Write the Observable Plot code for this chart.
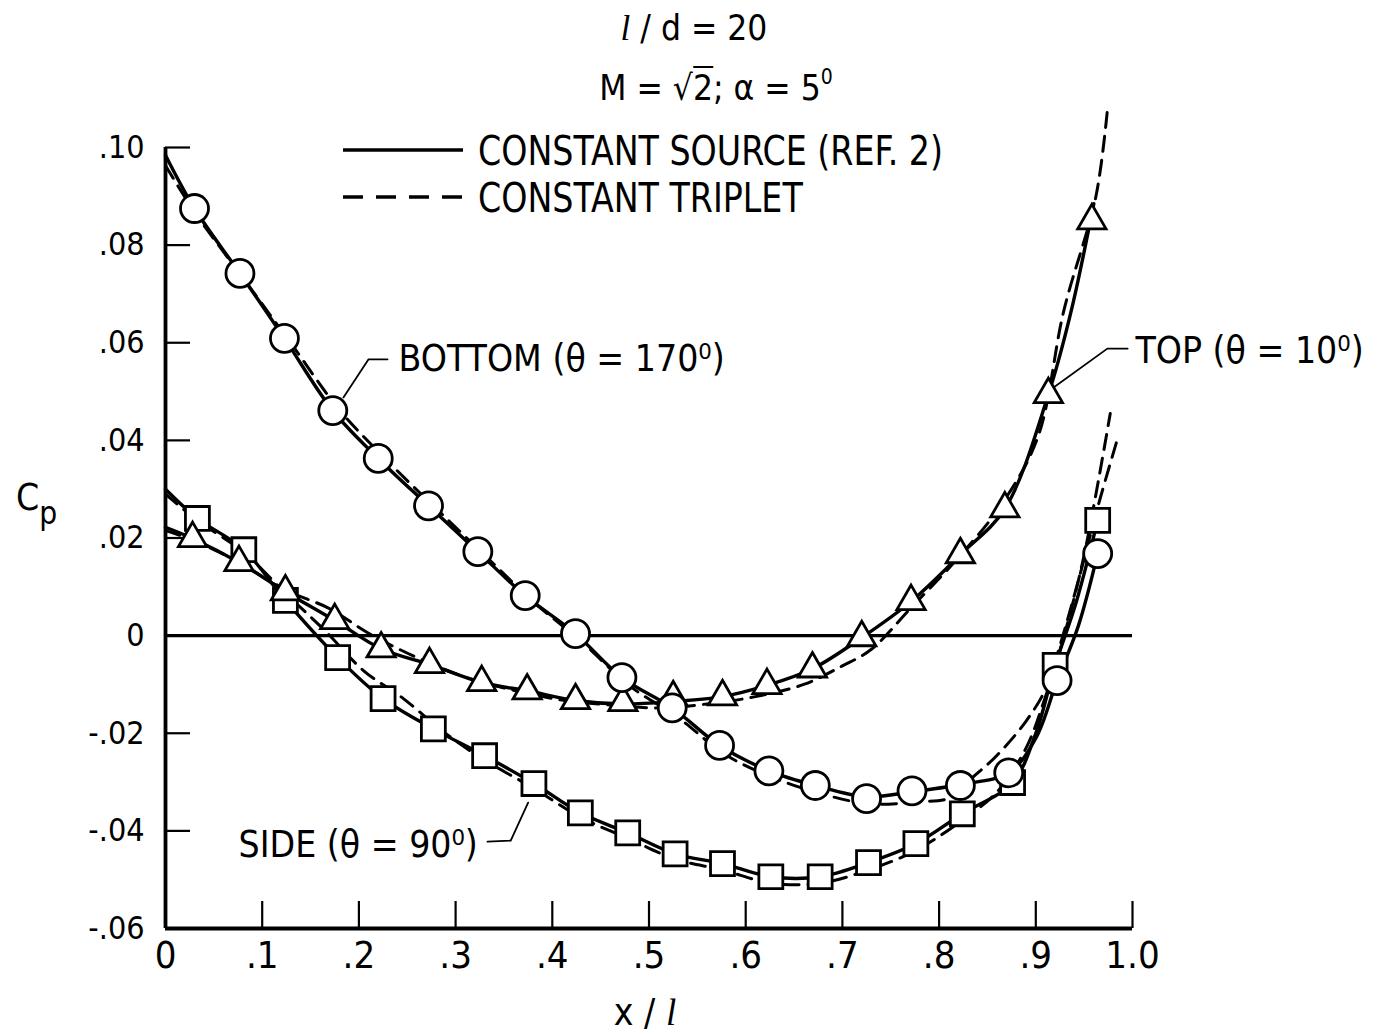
<!DOCTYPE html>
<html>
<head>
<meta charset="utf-8">
<script src="https://cdn.jsdelivr.net/npm/d3@7"></script>
<script src="https://cdn.jsdelivr.net/npm/@observablehq/plot@0.6"></script>
<style>
  body { margin: 0; background: #fff; }
  #wrap { position: relative; width: 1378px; height: 1034px; font-family: 'DejaVu Sans Condensed','DejaVu Sans',sans-serif; color: #000; }
  .ov { position: absolute; line-height: 1; white-space: nowrap; z-index: 2; }
  .c { transform: translateX(-50%); }
  .tall { transform: scaleY(1.12); transform-origin: left center; }
  .ell { font-family: 'Liberation Serif', serif; font-style: italic; }
  sup.deg { font-size: 0.6em; vertical-align: 0.75em; line-height: 0; }
  #chart { position: absolute; left: 0; top: 120px; z-index: 1; }
</style>
</head>
<body>
<div id="wrap">
  <div id="chart"></div>
  <div class="ov c" style="left:694px; top:11px; font-size:35px;"><span class="ell">l</span> / d = 20</div>
  <div class="ov c" style="left:716px; top:71px; font-size:35px;">M = √<span style="border-top:2.5px solid #000;">2</span>; α = 5<sup class="deg">0</sup></div>
  <svg class="ov" style="left:343px; top:140px;" width="122" height="20"><line x1="0" x2="120" y1="10" y2="10" stroke="#000" stroke-width="3.4"/></svg>
  <div class="ov tall" style="left:478px; top:132px; font-size:37px;">CONSTANT SOURCE (REF. 2)</div>
  <svg class="ov" style="left:343px; top:187px;" width="122" height="20"><line x1="0" x2="120" y1="10" y2="10" stroke="#000" stroke-width="3.4" stroke-dasharray="20,13"/></svg>
  <div class="ov tall" style="left:478px; top:179px; font-size:37px;">CONSTANT TRIPLET</div>
  <div class="ov c" style="left:645px; top:994px; font-size:37px;">x / <span class="ell">l</span></div>
  <div class="ov" style="left:16px; top:479px; font-size:37px;">C<sub style="font-size:0.85em; vertical-align:-0.45em;">p</sub></div>
</div>
<script>
// ---- Axis ticks ----
const xTicks = [0, 0.1, 0.2, 0.3, 0.4, 0.5, 0.6, 0.7, 0.8, 0.9, 1.0];
const xTickLabels = ["0", ".1", ".2", ".3", ".4", ".5", ".6", ".7", ".8", ".9", "1.0"];
const yTicks = [0.10, 0.08, 0.06, 0.04, 0.02, 0, -0.02, -0.04, -0.06];
const yTickLabels = [".10", ".08", ".06", ".04", ".02", "0", "-.02", "-.04", "-.06"];

// ---- Bottom (theta = 170) : circles ----
const bottomX  = [0.030, 0.077, 0.123, 0.173, 0.220, 0.272, 0.323, 0.372, 0.424, 0.472, 0.524, 0.573, 0.624, 0.672, 0.725, 0.772, 0.822, 0.872, 0.922, 0.964];
const bottomCp = [0.0875, 0.0742, 0.0609, 0.0461, 0.0363, 0.0266, 0.0172, 0.0082, 0.0004, -0.0086, -0.0148, -0.0225, -0.0277, -0.0307, -0.0334, -0.0318, -0.0307, -0.0281, -0.0092, 0.0168];
const bottomSolidX = [0, 0.030, 0.077, 0.123, 0.173, 0.220, 0.272, 0.323, 0.372, 0.424, 0.472, 0.524, 0.573, 0.624, 0.672, 0.725, 0.772, 0.822, 0.872, 0.900, 0.922, 0.944, 0.964];
const bottomSolidY = [0.0984, 0.0875, 0.0742, 0.0609, 0.0461, 0.0363, 0.0266, 0.0172, 0.0082, 0.0004, -0.0086, -0.0148, -0.0225, -0.0277, -0.0307, -0.0330, -0.0320, -0.0305, -0.0281, -0.0210, -0.0092, 0.0020, 0.0168];
const bottomDashX = [0, 0.030, 0.080, 0.130, 0.180, 0.230, 0.280, 0.330, 0.380, 0.430, 0.480, 0.530, 0.580, 0.630, 0.680, 0.730, 0.780, 0.810, 0.835, 0.860, 0.890, 0.910, 0.925, 0.945, 0.965, 0.984];
const bottomDashY = [0.0963, 0.0868, 0.0733, 0.0598, 0.0462, 0.0357, 0.0260, 0.0165, 0.0070, -0.0012, -0.0103, -0.0168, -0.0245, -0.0292, -0.0325, -0.0345, -0.0340, -0.0333, -0.0290, -0.0245, -0.0175, -0.0110, -0.0020, 0.0120, 0.0270, 0.0400];

// ---- Top (theta = 10) : triangles ----
const topX  = [0.028, 0.076, 0.124, 0.175, 0.223, 0.273, 0.327, 0.374, 0.424, 0.473, 0.525, 0.576, 0.622, 0.669, 0.720, 0.771, 0.822, 0.868, 0.913, 0.958];
const topCp = [0.0199, 0.0150, 0.0090, 0.0031, -0.0027, -0.0059, -0.0096, -0.0113, -0.0133, -0.0137, -0.0127, -0.0125, -0.0102, -0.0068, -0.0004, 0.0070, 0.0166, 0.0260, 0.0494, 0.0850];
const topSolidX = [0, 0.028, 0.076, 0.124, 0.175, 0.223, 0.273, 0.327, 0.374, 0.424, 0.473, 0.525, 0.576, 0.622, 0.669, 0.720, 0.771, 0.822, 0.868, 0.913, 0.936, 0.960];
const topSolidY = [0.0222, 0.0199, 0.0150, 0.0090, 0.0031, -0.0027, -0.0059, -0.0096, -0.0113, -0.0133, -0.0140, -0.0135, -0.0125, -0.0102, -0.0068, -0.0004, 0.0070, 0.0166, 0.0260, 0.0494, 0.0660, 0.0885];
const topDashX = [0, 0.028, 0.076, 0.124, 0.168, 0.210, 0.260, 0.310, 0.360, 0.410, 0.460, 0.510, 0.560, 0.610, 0.660, 0.700, 0.730, 0.770, 0.820, 0.865, 0.902, 0.929, 0.962, 0.974];
const topDashY = [0.0215, 0.0196, 0.0150, 0.0093, 0.0057, 0.0005, -0.0045, -0.0085, -0.0112, -0.0132, -0.0142, -0.0148, -0.0140, -0.0125, -0.0100, -0.0062, -0.0028, 0.0055, 0.0160, 0.0270, 0.0406, 0.0666, 0.0898, 0.1076];

// ---- Side (theta = 90) : squares ----
const sideX  = [0.033, 0.081, 0.124, 0.178, 0.225, 0.277, 0.330, 0.381, 0.429, 0.478, 0.527, 0.576, 0.626, 0.677, 0.727, 0.776, 0.824, 0.876, 0.920, 0.964];
const sideCp = [0.0240, 0.0176, 0.0072, -0.0045, -0.0129, -0.0191, -0.0246, -0.0303, -0.0363, -0.0404, -0.0447, -0.0467, -0.0494, -0.0494, -0.0465, -0.0426, -0.0365, -0.0301, -0.0061, 0.0236];
const sideSolidX = [0, 0.033, 0.081, 0.124, 0.178, 0.225, 0.277, 0.330, 0.381, 0.429, 0.478, 0.527, 0.576, 0.626, 0.677, 0.727, 0.776, 0.824, 0.876, 0.900, 0.920, 0.942, 0.964];
const sideSolidY = [0.0300, 0.0240, 0.0176, 0.0072, -0.0045, -0.0129, -0.0191, -0.0246, -0.0303, -0.0363, -0.0404, -0.0447, -0.0467, -0.0494, -0.0494, -0.0465, -0.0426, -0.0365, -0.0301, -0.0200, -0.0061, 0.0070, 0.0236];
const sideDashX = [0, 0.033, 0.080, 0.125, 0.165, 0.205, 0.246, 0.290, 0.330, 0.380, 0.430, 0.478, 0.527, 0.576, 0.626, 0.677, 0.727, 0.776, 0.824, 0.860, 0.890, 0.910, 0.930, 0.950, 0.977];
const sideDashY = [0.0290, 0.0236, 0.0172, 0.0085, 0.0010, -0.0072, -0.0129, -0.0201, -0.0255, -0.0312, -0.0373, -0.0415, -0.0458, -0.0480, -0.0507, -0.0507, -0.0480, -0.0440, -0.0378, -0.0320, -0.0230, -0.0125, 0.0005, 0.0165, 0.0455];

// ---- Curve labels and leader lines ----
const startLabelText = ["BOTTOM (θ = 170⁰)", "TOP (θ = 10⁰)"];
const startLabelX = [0.241, 1.003];
const startLabelY = [0.0566, 0.0582];
const endLabelText = ["SIDE (θ = 90⁰)"];
const endLabelX = [0.323];
const endLabelY = [-0.0430];
const bottomLeaderX = [0.184, 0.210, 0.2296];
const bottomLeaderY = [0.0488, 0.0566, 0.0566];
const topLeaderX = [0.918, 0.974, 0.995];
const topLeaderY = [0.0508, 0.0588, 0.0588];
const sideLeaderX = [0.375, 0.357, 0.333];
const sideLeaderY = [-0.0342, -0.0420, -0.0422];

// ---- build tables ----
const zip = (xs, ys) => xs.map((x, i) => ({x, y: ys[i]}));
const zipT = (ts, xs, ys) => ts.map((t, i) => ({t, x: xs[i], y: ys[i]}));
const FONT = "'DejaVu Sans Condensed','DejaVu Sans',sans-serif";
const W = 1378, H = 914, ML = 165, MR = 246, MT = 27, MB = 106;
const PW = W - ML - MR, PH = H - MT - MB;
const xLab = new Map(xTicks.map((t, i) => [t, xTickLabels[i]]));
const yLab = new Map(yTicks.map((t, i) => [t, yTickLabels[i]]));

const solid = {stroke: "#000", strokeWidth: 3.4, curve: "catmull-rom"};
const dashed = {stroke: "#000", strokeWidth: 3, strokeDasharray: "15,9", curve: "catmull-rom"};
const dotStyle = {fill: "white", stroke: "#000", strokeWidth: 2.8};

const chart = Plot.plot({
  width: W, height: H,
  marginLeft: ML, marginRight: MR, marginTop: MT, marginBottom: MB,
  style: {fontFamily: FONT, background: "white", color: "#000", overflow: "visible"},
  x: {domain: [0, 1]},
  y: {domain: [-0.06, 0.10]},
  marks: [
    Plot.axisY(yTicks, {tickSize: 0, tickPadding: 21, tickFormat: d => yLab.get(d), fontSize: 32, label: null}),
    Plot.axisX(xTicks, {tickSize: 0, tickPadding: 13, tickFormat: d => xLab.get(d), fontSize: 38, label: null}),
    Plot.tickY(yTicks, {y: d => d, insetRight: PW - 25, strokeWidth: 2.2}),
    Plot.tickX(xTicks.slice(1), {x: d => d, insetTop: PH - 27, strokeWidth: 2.2}),
    Plot.ruleX([0], {strokeWidth: 3.8}),
    Plot.ruleY([-0.06], {strokeWidth: 3.8}),
    Plot.ruleY([0], {strokeWidth: 3.2}),
    Plot.line(zip(bottomDashX, bottomDashY), {x: "x", y: "y", ...dashed}),
    Plot.line(zip(topDashX, topDashY), {x: "x", y: "y", ...dashed}),
    Plot.line(zip(sideDashX, sideDashY), {x: "x", y: "y", ...dashed}),
    Plot.line(zip(bottomSolidX, bottomSolidY), {x: "x", y: "y", ...solid}),
    Plot.line(zip(topSolidX, topSolidY), {x: "x", y: "y", ...solid}),
    Plot.line(zip(sideSolidX, sideSolidY), {x: "x", y: "y", ...solid}),
    Plot.line(zip(bottomLeaderX, bottomLeaderY), {x: "x", y: "y", stroke: "#000", strokeWidth: 1.8}),
    Plot.line(zip(topLeaderX, topLeaderY), {x: "x", y: "y", stroke: "#000", strokeWidth: 1.8}),
    Plot.line(zip(sideLeaderX, sideLeaderY), {x: "x", y: "y", stroke: "#000", strokeWidth: 1.8}),
    Plot.dot(zip(sideX, sideCp), {x: "x", y: "y", symbol: "square", r: 13.5, ...dotStyle}),
    Plot.dot(zip(topX, topCp), {x: "x", y: "y", symbol: "triangle", r: 10.5, ...dotStyle}),
    Plot.dot(zip(bottomX, bottomCp), {x: "x", y: "y", symbol: "circle", r: 14, ...dotStyle}),
    Plot.text(zipT(startLabelText, startLabelX, startLabelY), {x: "x", y: "y", text: "t", textAnchor: "start", fontSize: 37, fill: "#000"}),
    Plot.text(zipT(endLabelText, endLabelX, endLabelY), {x: "x", y: "y", text: "t", textAnchor: "end", fontSize: 37, fill: "#000"})
  ]
});
document.getElementById("chart").appendChild(chart);
</script>
</body>
</html>
